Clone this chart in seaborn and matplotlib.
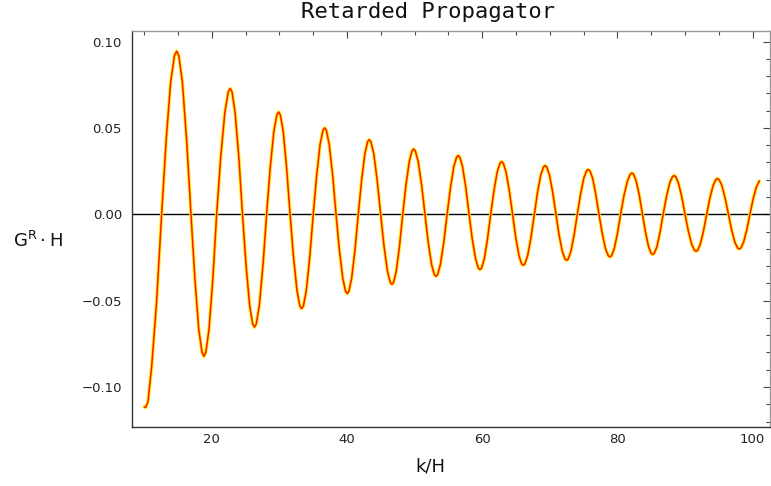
import matplotlib
matplotlib.use("Agg")
import matplotlib.pyplot as plt
import seaborn as sns
import pandas as pd
from matplotlib.ticker import FixedLocator, FixedFormatter, MultipleLocator

# ---- data ----
k_over_H = [
    10.00, 10.20, 10.55, 11.10, 11.80, 12.57,
    13.24, 13.90, 14.46, 14.79, 15.11, 15.64, 16.27, 16.91,
    17.49, 18.06, 18.54, 18.83, 19.11, 19.58, 20.15, 20.71,
    21.31, 21.92, 22.42, 22.72, 22.99, 23.44, 23.99, 24.53,
    25.06, 25.59, 26.04, 26.30, 26.57, 27.02, 27.56, 28.10,
    28.63, 29.17, 29.61, 29.88, 30.13, 30.56, 31.06, 31.57,
    32.08, 32.60, 33.02, 33.28, 33.54, 33.97, 34.48, 35.00,
    35.51, 36.01, 36.44, 36.69, 36.94, 37.36, 37.87, 38.37,
    38.87, 39.37, 39.78, 40.03, 40.27, 40.68, 41.17, 41.66,
    42.15, 42.63, 43.04, 43.28, 43.53, 43.96, 44.46, 44.97,
    45.47, 45.97, 46.39, 46.64, 46.88, 47.28, 47.76, 48.24,
    48.72, 49.21, 49.61, 49.85, 50.10, 50.52, 51.02, 51.52,
    52.01, 52.50, 52.91, 53.15, 53.40, 53.81, 54.31, 54.80,
    55.30, 55.79, 56.20, 56.45, 56.69, 57.09, 57.57, 58.05,
    58.53, 59.02, 59.42, 59.66, 59.90, 60.30, 60.77, 61.25,
    61.74, 62.22, 62.63, 62.87, 63.11, 63.51, 64.00, 64.48,
    64.96, 65.43, 65.83, 66.07, 66.31, 66.72, 67.21, 67.70,
    68.18, 68.66, 69.06, 69.30, 69.54, 69.94, 70.42, 70.90,
    71.37, 71.85, 72.24, 72.48, 72.72, 73.11, 73.59, 74.06,
    74.55, 75.03, 75.44, 75.68, 75.92, 76.32, 76.79, 77.27,
    77.76, 78.24, 78.65, 78.89, 79.13, 79.52, 80.00, 80.47,
    80.97, 81.48, 81.90, 82.15, 82.38, 82.77, 83.24, 83.70,
    84.16, 84.61, 84.99, 85.22, 85.45, 85.84, 86.30, 86.76,
    87.25, 87.73, 88.14, 88.38, 88.62, 89.03, 89.51, 90.00,
    90.49, 90.98, 91.39, 91.64, 91.87, 92.26, 92.73, 93.20,
    93.68, 94.16, 94.56, 94.80, 95.04, 95.45, 95.93, 96.42,
    96.90, 97.38, 97.78, 98.02, 98.26, 98.65, 99.13, 99.60,
    100.08, 100.56, 101.00,
]

G_R_H = [
    -0.1115, -0.1118, -0.1085, -0.0880, -0.0520, 0.0,
    0.0429, 0.0764, 0.0918, 0.0944, 0.0918, 0.0764, 0.0429, 0.0,
    -0.0373, -0.0665, -0.0799, -0.0822, -0.0799, -0.0665, -0.0373, 0.0,
    0.0331, 0.0589, 0.0708, 0.0728, 0.0708, 0.0589, 0.0331, 0.0,
    -0.0296, -0.0528, -0.0635, -0.0653, -0.0635, -0.0528, -0.0296, 0.0,
    0.0269, 0.0479, 0.0575, 0.0592, 0.0575, 0.0479, 0.0269, 0.0,
    -0.0248, -0.0442, -0.0531, -0.0546, -0.0531, -0.0442, -0.0248, 0.0,
    0.0227, 0.0405, 0.0486, 0.0500, 0.0486, 0.0405, 0.0227, 0.0,
    -0.0208, -0.0371, -0.0446, -0.0459, -0.0446, -0.0371, -0.0208, 0.0,
    0.0196, 0.0349, 0.0420, 0.0432, 0.0420, 0.0349, 0.0196, 0.0,
    -0.0184, -0.0328, -0.0394, -0.0405, -0.0394, -0.0328, -0.0184, 0.0,
    0.0172, 0.0306, 0.0367, 0.0378, 0.0367, 0.0306, 0.0172, 0.0,
    -0.0163, -0.0290, -0.0349, -0.0359, -0.0349, -0.0290, -0.0163, 0.0,
    0.0154, 0.0275, 0.0330, 0.0340, 0.0330, 0.0275, 0.0154, 0.0,
    -0.0145, -0.0259, -0.0311, -0.0320, -0.0311, -0.0259, -0.0145, 0.0,
    0.0138, 0.0247, 0.0296, 0.0305, 0.0296, 0.0247, 0.0138, 0.0,
    -0.0134, -0.0239, -0.0287, -0.0295, -0.0287, -0.0239, -0.0134, 0.0,
    0.0128, 0.0228, 0.0274, 0.0282, 0.0274, 0.0228, 0.0128, 0.0,
    -0.0121, -0.0215, -0.0259, -0.0266, -0.0259, -0.0215, -0.0121, 0.0,
    0.0118, 0.0210, 0.0252, 0.0259, 0.0252, 0.0210, 0.0118, 0.0,
    -0.0112, -0.0200, -0.0240, -0.0247, -0.0240, -0.0200, -0.0112, 0.0,
    0.0109, 0.0193, 0.0232, 0.0239, 0.0232, 0.0193, 0.0109, 0.0,
    -0.0105, -0.0188, -0.0226, -0.0232, -0.0226, -0.0188, -0.0105, 0.0,
    0.0102, 0.0181, 0.0218, 0.0224, 0.0218, 0.0181, 0.0102, 0.0,
    -0.0097, -0.0173, -0.0208, -0.0214, -0.0208, -0.0173, -0.0097, 0.0,
    0.0094, 0.0167, 0.0201, 0.0207, 0.0201, 0.0167, 0.0094, 0.0,
    -0.0091, -0.0163, -0.0195, -0.0201, -0.0195, -0.0163, -0.0091, 0.0,
    0.0089, 0.0159, 0.0193,
]

x_major = [20, 40, 60, 80, 100]
y_major = [-0.10, -0.05, 0.00, 0.05, 0.10]
y_labels = ["\u22120.10", "\u22120.05", "0.00", "0.05", "0.10"]

title_text = "Retarded Propagator"
x_label = "k/H"
y_label = r"$\mathregular{G^{R}\cdot H}$"

# ---- plotting ----
sns.set_theme(style="white")
plt.rcParams['font.family'] = ['DejaVu Sans']

df = pd.DataFrame({"k": k_over_H, "G": G_R_H})

fig = plt.figure(figsize=(7.71, 4.86), dpi=100)
ax = fig.add_axes([0.1708, 0.1208, 0.8279, 0.8154])

ax.axhline(0, color="black", lw=1.0, zorder=1)
sns.lineplot(data=df, x="k", y="G", ax=ax, sort=False, estimator=None,
             color="#FFEE00", lw=2.5, zorder=3)
sns.lineplot(data=df, x="k", y="G", ax=ax, sort=False, estimator=None,
             color="#FF1A00", lw=1.1, zorder=4)

ax.set_xlim(8.14, 102.57)
ax.set_ylim(-0.1233, 0.1061)

ax.xaxis.set_major_locator(FixedLocator(x_major))
ax.xaxis.set_minor_locator(MultipleLocator(5))
ax.yaxis.set_major_locator(FixedLocator(y_major))
ax.yaxis.set_major_formatter(FixedFormatter(y_labels))
ax.yaxis.set_minor_locator(MultipleLocator(0.01))

ax.tick_params(which="both", direction="in", top=True, right=True,
               colors="#444444", labelcolor="#222222", width=0.8)
ax.tick_params(which="major", length=5)
ax.tick_params(which="minor", length=3)
ax.tick_params(axis="y", which="major", pad=7, labelsize=9.5)
ax.tick_params(axis="x", which="major", pad=4, labelsize=9.5)

for side in ["left", "bottom"]:
    ax.spines[side].set_color("#333333")
    ax.spines[side].set_linewidth(1.0)
for side in ["top", "right"]:
    ax.spines[side].set_color("#999999")
    ax.spines[side].set_linewidth(1.0)

ax.set_xlabel("")
ax.set_ylabel("")

fig.text(428 / 771, 1 - 12 / 486, title_text, ha="center", va="center",
         fontsize=16, family="DejaVu Sans Mono", color="#111111")
fig.text(430 / 771, 1 - 466 / 486, x_label, ha="center", va="center",
         fontsize=13, color="#111111")
fig.text(38 / 771, 1 - 241 / 486, y_label, ha="center", va="center",
         fontsize=13, color="#111111")

fig.savefig("out.png", dpi=100)
